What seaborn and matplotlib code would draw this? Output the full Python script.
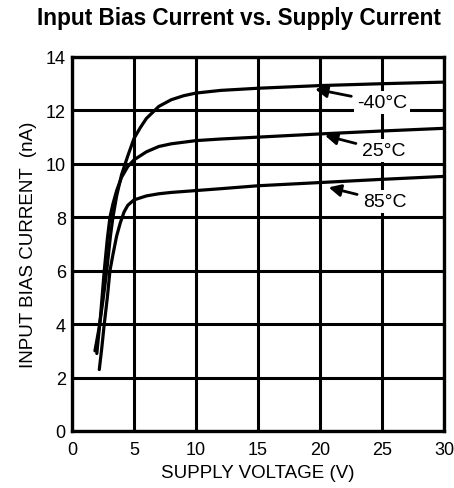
import pandas as pd
import matplotlib.pyplot as plt
import seaborn as sns

# Curve data
v_m40 = [1.85, 2.2, 2.5, 2.8, 3.1, 3.3, 3.6, 4.0, 4.5, 5.0, 5.5, 6, 7, 8, 9, 10, 12, 15, 20, 25, 30]
i_m40 = [3.0, 3.9, 4.9, 6.0, 7.3, 8.0, 8.8, 9.6, 10.3, 10.95, 11.35, 11.7, 12.15, 12.4, 12.55,
         12.65, 12.75, 12.83, 12.93, 13.0, 13.06]

v_25 = [2.0, 2.3, 2.6, 2.85, 3.06, 3.3, 3.6, 4.0, 4.5, 5, 6, 7, 8, 10, 12, 15, 20, 25, 30]
i_25 = [2.9, 4.3, 6.0, 7.2, 8.0, 8.5, 9.0, 9.5, 9.9, 10.15, 10.45, 10.65, 10.75, 10.87, 10.93,
        11.0, 11.12, 11.23, 11.33]

v_85 = [2.2, 2.4, 2.6, 2.85, 3.06, 3.3, 3.6, 3.9, 4.2, 4.5, 5, 6, 7, 8, 10, 12, 15, 20, 25, 30]
i_85 = [2.3, 3.1, 4.0, 5.0, 6.0, 6.6, 7.3, 7.8, 8.2, 8.45, 8.65, 8.8, 8.88, 8.93, 9.0, 9.07,
        9.18, 9.3, 9.42, 9.53]

labels = ['-40°C', '25°C', '85°C']
# label text position, arrow tip
label_xy = [(25.0, 12.3), (25.1, 10.5), (25.2, 8.6)]
arrow_tip = [(19.6, 12.8), (20.4, 11.06), (20.7, 9.12)]

x_ticks = [0, 5, 10, 15, 20, 25, 30]
y_ticks = [0, 2, 4, 6, 8, 10, 12, 14]

df = pd.concat([
    pd.DataFrame({'V': v_m40, 'I': i_m40, 'T': labels[0]}),
    pd.DataFrame({'V': v_25, 'I': i_25, 'T': labels[1]}),
    pd.DataFrame({'V': v_85, 'I': i_85, 'T': labels[2]}),
])

sns.set_theme(style="white")
plt.rcParams['font.family'] = ['Liberation Sans', 'DejaVu Sans']

fig = plt.figure(figsize=(4.54, 4.89), dpi=100)
ax = fig.add_axes([0.1586, 0.1166, 0.8194, 0.7648])

sns.lineplot(data=df, x='V', y='I', units='T', estimator=None, sort=False,
             color='black', linewidth=2.3, ax=ax)

ax.set_xlim(0, 30)
ax.set_ylim(0, 14)
ax.set_xticks(x_ticks)
ax.set_yticks(y_ticks)
ax.grid(True, color='black', linewidth=2.2)
ax.set_axisbelow(True)
for s in ax.spines.values():
    s.set_color('black')
    s.set_linewidth(2.4)
ax.tick_params(length=0, labelsize=13, colors='black')
ax.tick_params(axis='x', pad=7.5)
ax.tick_params(axis='y', pad=4.5)

for lab, (tx, ty), (ax_, ay) in zip(labels, label_xy, arrow_tip):
    ax.annotate(lab, xy=(ax_, ay), xytext=(tx, ty), ha='center', va='center',
                fontsize=14, color='black',
                bbox=dict(boxstyle='square,pad=0.15', fc='white', ec='none'),
                arrowprops=dict(arrowstyle='-|>', color='black', lw=2,
                                mutation_scale=18, shrinkA=2, shrinkB=0))

ax.set_xlabel('SUPPLY VOLTAGE (V)', fontsize=13.5, color='black', labelpad=4)
ax.set_ylabel('INPUT BIAS CURRENT  (nA)', fontsize=13.5, color='black', labelpad=6)
fig.text(0.527, 0.962, 'Input Bias Current vs. Supply Current', ha='center', va='center',
         fontsize=16.3, fontweight='bold', color='black')

fig.savefig('out.png', dpi=100)
